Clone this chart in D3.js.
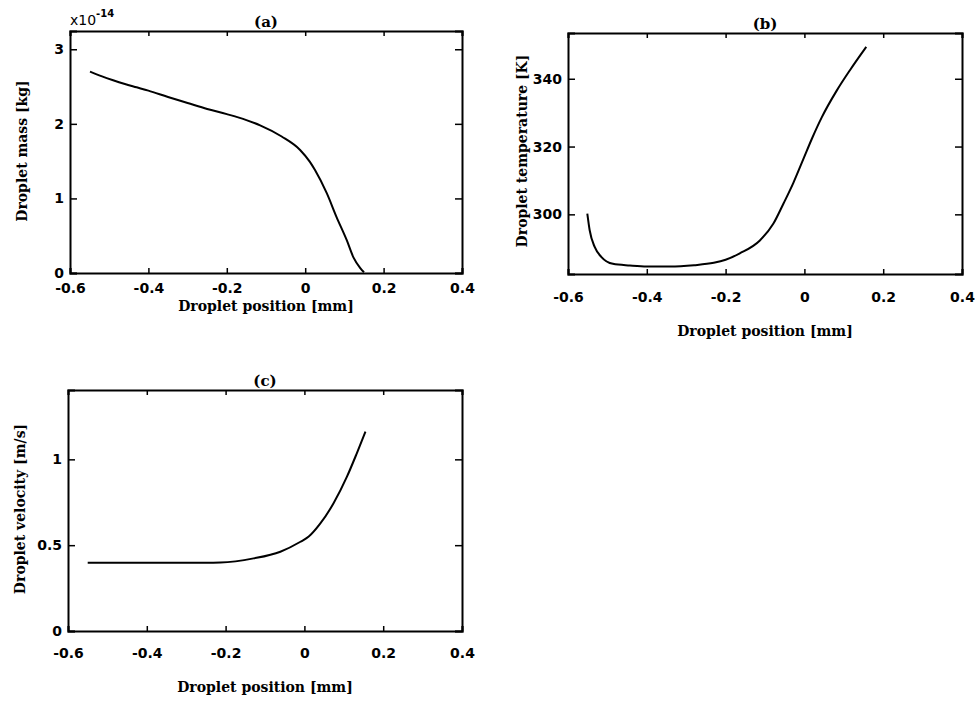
<!DOCTYPE html>
<html>
<head>
<meta charset="utf-8">
<script src="https://cdn.jsdelivr.net/npm/d3@7"></script>
<style>
  body { margin: 0; background: #fff; }
  svg { display: block; }
  .tick text { font-family: "DejaVu Sans", sans-serif; font-weight: bold; font-size: 14px; fill: #000; }
  .lab { font-family: "DejaVu Serif", serif; font-size: 14px; fill: #000; font-weight: bold; }
</style>
</head>
<body>
<script>
// shared x ticks (droplet position, mm)
const xTicks = [-0.6, -0.4, -0.2, 0, 0.2, 0.4];

// (a) droplet mass, in units of 1e-14 kg
const massX = [-0.549, -0.52, -0.49, -0.46, -0.43, -0.4, -0.35, -0.3, -0.25, -0.2, -0.15, -0.115, -0.06, -0.013, 0.012, 0.025, 0.055, 0.08, 0.106, 0.123, 0.14, 0.15];
const massY = [2.70, 2.64, 2.585, 2.535, 2.49, 2.445, 2.36, 2.28, 2.20, 2.13, 2.05, 1.98, 1.83, 1.65, 1.49, 1.38, 1.07, 0.75, 0.44, 0.21, 0.07, 0.01];
const massTicks = [0, 1, 2, 3];

// (b) droplet temperature, K
const tempX = [-0.551, -0.545, -0.532, -0.515, -0.486, -0.443, -0.4, -0.341, -0.28, -0.23, -0.2, -0.164, -0.113, -0.079, -0.053, -0.028, -0.003, 0.019, 0.044, 0.082, 0.116, 0.157];
const tempY = [300.2, 295.3, 290.3, 287.4, 285.4, 284.9, 284.6, 284.6, 285.0, 285.7, 286.6, 288.5, 292.3, 297.2, 303.2, 309.3, 316.2, 322.3, 328.6, 336.5, 342.6, 349.4];
const tempTicks = [300, 320, 340];

// (c) droplet velocity, m/s
const velX = [-0.55, -0.45, -0.35, -0.25, -0.213, -0.129, -0.061, -0.01, 0.011, 0.04, 0.074, 0.108, 0.133, 0.155];
const velY = [0.398, 0.398, 0.398, 0.398, 0.399, 0.423, 0.462, 0.52, 0.55, 0.625, 0.744, 0.899, 1.035, 1.161];
const velTicks = [0, 0.5, 1];

const svg = d3.select("body").append("svg")
    .attr("width", 978)
    .attr("height", 703);

const fmt = d => String(d);

function panel(o) {
  const x = d3.scaleLinear().domain([-0.6, 0.4]).range([o.left, o.right]);
  const y = d3.scaleLinear().domain(o.yDomain).range([o.bottom, o.top]);
  const g = svg.append("g");

  const axB = g.append("g").attr("transform", `translate(0,${o.bottom})`)
      .call(d3.axisBottom(x).tickValues(xTicks).tickSize(-5).tickPadding(o.xPad).tickFormat(fmt));
  const axT = g.append("g").attr("transform", `translate(0,${o.top})`)
      .call(d3.axisTop(x).tickValues(xTicks).tickSize(-5).tickFormat(""));
  const axL = g.append("g").attr("transform", `translate(${o.left},0)`)
      .call(d3.axisLeft(y).tickValues(o.yTicks).tickSize(-7).tickPadding(6).tickFormat(fmt));
  const axR = g.append("g").attr("transform", `translate(${o.right},0)`)
      .call(d3.axisRight(y).tickValues(o.yTicks).tickSize(-7).tickFormat(""));
  [axB, axT, axL, axR].forEach(a => {
    a.select(".domain").attr("stroke", "#000").attr("stroke-width", 2);
    a.selectAll(".tick line").attr("stroke", "#000").attr("stroke-width", 1.5);
  });
  axB.selectAll(".tick text").attr("dy", "0.9em");

  g.append("path")
      .datum(o.xs.map((v, i) => [v, o.ys[i]]))
      .attr("fill", "none")
      .attr("stroke", "#000")
      .attr("stroke-width", 2)
      .attr("d", d3.line().x(d => x(d[0])).y(d => y(d[1])).curve(d3.curveMonotoneX));

  g.append("text").attr("class", "lab")
      .attr("x", (o.left + o.right) / 2).attr("y", o.top - 4)
      .attr("text-anchor", "middle").style("font-size", "15px").text(o.title);
  g.append("text").attr("class", "lab")
      .attr("x", (o.left + o.right) / 2).attr("y", o.xLabelY)
      .attr("text-anchor", "middle").text("Droplet position [mm]");
  g.append("text").attr("class", "lab")
      .attr("transform", `translate(${o.yLabelX},${o.yLabelMid}) rotate(-90)`)
      .attr("text-anchor", "middle").text(o.yLabel);
  return g;
}

const ga = panel({
  left: 70, right: 462, top: 31, bottom: 273,
  yDomain: [0, 3.245], yTicks: massTicks,
  xs: massX, ys: massY, xPad: 7,
  title: "(a)", xLabelY: 311,
  yLabel: "Droplet mass [kg]", yLabelX: 27, yLabelMid: 151
});
const mult = ga.append("text")
    .attr("x", 70).attr("y", 25)
    .style("font-family", "DejaVu Sans, sans-serif").style("font-size", "14px");
mult.append("tspan").text("x10");
mult.append("tspan").attr("dy", -8).style("font-size", "10px").style("font-weight", "bold").text("-14");

panel({
  left: 568, right: 962, top: 33, bottom: 274,
  yDomain: [282.4, 353.5], yTicks: tempTicks,
  xs: tempX, ys: tempY, xPad: 15,
  title: "(b)", xLabelY: 336,
  yLabel: "Droplet temperature [K]", yLabelX: 527, yLabelMid: 151
});

panel({
  left: 68, right: 462, top: 390, bottom: 631,
  yDomain: [0, 1.404], yTicks: velTicks,
  xs: velX, ys: velY, xPad: 14,
  title: "(c)", xLabelY: 692,
  yLabel: "Droplet velocity [m/s]", yLabelX: 25, yLabelMid: 509
});
</script>
</body>
</html>
